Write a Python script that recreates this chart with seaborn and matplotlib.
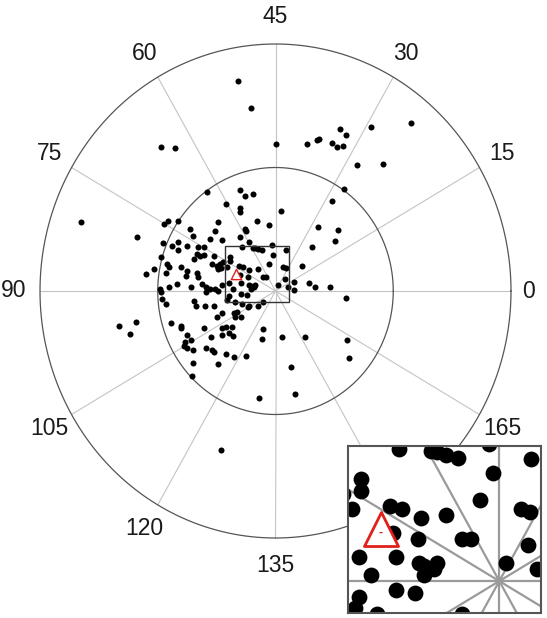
import numpy as np
import pandas as pd
import matplotlib.pyplot as plt
from matplotlib.patches import Rectangle
import seaborn as sns

sns.set_style('white')
plt.rcParams['font.family'] = ['Liberation Sans', 'DejaVu Sans']

# orientation labels (0-180) spread over the full circle
angle_labels = [0, 15, 30, 45, 60, 75, 90, 105, 120, 135, 150, 165]
ring_radii = [0.5, 1.0]

# vector components of each point (outer ring = 1)
comp_x = [
    -0.159, -0.102, -0.487, -0.425, 0.004, 0.133, 0.177, 0.186, 0.239, 0.261,
    0.288, 0.274, 0.301, 0.407, 0.575, 0.345, 0.456, 0.292, 0.239, 0.181,
    0.265, 0.252, 0.155, 0.111, 0.142, 0.168, 0.230, 0.301, 0.080, 0.080,
    0.053, 0.022, -0.027, -0.080, -0.827, -0.588, -0.292, -0.150, -0.128, -0.097,
    -0.212, -0.150, -0.150, -0.243, -0.128, -0.124, -0.257, -0.363, -0.226, -0.279,
    -0.350, -0.150, -0.111, -0.088, -0.075, -0.058, -0.009, -0.142, -0.473, -0.456,
    -0.416, -0.478, -0.438, -0.416, -0.412, -0.376, -0.327, -0.305, -0.332, -0.319,
    -0.305, -0.345, -0.261, -0.270, -0.248, -0.235, -0.221, -0.243, -0.230, -0.195,
    -0.195, -0.155, -0.137, -0.111, -0.075, -0.027, 0.031, 0.044, 0.040, 0.009,
    -0.053, -0.040, -0.115, -0.106, -0.093, -0.106, -0.150, -0.146, -0.181, -0.146,
    -0.199, -0.208, -0.487, -0.518, -0.549, -0.460, -0.451, -0.465, -0.403, -0.381,
    -0.332, -0.327, -0.376, -0.420, -0.451, -0.491, -0.487, -0.358, -0.310, -0.296,
    -0.279, -0.296, -0.257, -0.243, -0.198, -0.226, -0.482, -0.465, -0.345, -0.336,
    -0.301, -0.261, -0.204, -0.173, -0.142, -0.111, -0.053, -0.119, -0.664, -0.593,
    -0.619, -0.442, -0.403, -0.403, -0.376, -0.358, -0.385, -0.389, -0.376, -0.350,
    -0.296, -0.270, -0.261, -0.212, -0.177, -0.124, -0.350, -0.243, -0.354, -0.274,
    -0.226, -0.212, -0.186, -0.199, -0.181, -0.226, -0.305, -0.248, -0.226, -0.177,
    -0.164, -0.146, -0.173, -0.115, -0.075, -0.053, -0.058, 0.027, 0.124, 0.305,
    0.310, 0.066, 0.084, -0.071, -0.230, -0.097, -0.015, 0.045, -0.114, -0.088,
]
comp_y = [
    0.850, 0.741, 0.583, 0.579, 0.595, 0.595, 0.611, 0.615, 0.599, 0.583,
    0.587, 0.656, 0.632, 0.664, 0.680, 0.510, 0.514, 0.413, 0.364, 0.259,
    0.247, 0.202, 0.178, 0.101, 0.032, 0.016, 0.016, -0.028, 0.036, 0.004,
    0.016, 0.324, 0.267, 0.283, 0.279, 0.219, 0.401, 0.409, 0.385, 0.393,
    0.352, 0.336, 0.320, 0.279, 0.251, 0.243, 0.243, 0.251, 0.206, 0.211,
    0.223, 0.219, 0.198, 0.174, 0.170, 0.166, 0.146, 0.178, 0.271, 0.283,
    0.283, 0.194, 0.182, 0.198, 0.166, 0.182, 0.178, 0.178, 0.150, 0.142,
    0.146, 0.130, 0.142, 0.109, 0.101, 0.109, 0.117, 0.089, 0.093, 0.138,
    0.121, 0.101, 0.097, 0.085, 0.089, 0.109, 0.097, 0.093, 0.049, 0.024,
    0.057, 0.057, 0.057, 0.020, 0.016, 0.008, 0.065, 0.032, 0.008, -0.012,
    0.032, 0.097, 0.138, 0.089, 0.069, 0.109, 0.097, 0.073, 0.097, 0.061,
    0.073, 0.057, 0.081, 0.028, 0.016, 0.008, -0.004, 0.016, 0.028, 0.016,
    0.008, -0.004, 0.008, 0.000, -0.021, 0.024, -0.032, -0.053, -0.040, -0.061,
    -0.061, -0.061, -0.036, -0.045, -0.053, -0.061, -0.045, -0.016, -0.142, -0.126,
    -0.174, -0.130, -0.142, -0.150, -0.178, -0.198, -0.206, -0.223, -0.231, -0.239,
    -0.231, -0.239, -0.247, -0.255, -0.267, -0.263, -0.291, -0.296, -0.344, -0.186,
    -0.150, -0.146, -0.146, -0.170, -0.182, -0.178, -0.150, -0.105, -0.089, -0.089,
    -0.085, -0.105, -0.105, -0.065, -0.061, -0.154, -0.194, -0.186, -0.186, -0.198,
    -0.271, -0.308, -0.417, -0.433, -0.644, 0.175, 0.185, 0.165, 0.024, 0.024,
]

# mean vector (red triangle)
mean_x = [-0.168]
mean_y = [0.070]

# zoomed window shown in the inset
zoom_x = (-0.214, 0.059)
zoom_y = (-0.043, 0.182)

df = pd.DataFrame({'x': comp_x, 'y': comp_y})
mean_df = pd.DataFrame({'x': mean_x, 'y': mean_y})

fig = plt.figure(figsize=(5.47, 6.18), dpi=100)

# main polar-style panel (drawn on cartesian axes, slightly taller than wide)
ax = fig.add_axes([40 / 547, 80 / 618, 471 / 547, 494 / 618])
ax.set_xlim(-1, 1)
ax.set_ylim(-1, 1)
ax.axis('off')

t = np.linspace(0, 2 * np.pi, 500)
for r in ring_radii:
    ax.plot(r * np.cos(t), r * np.sin(t), color='#555555', lw=0.9,
            zorder=2, clip_on=False)

for lab in angle_labels:
    a = np.deg2rad(2 * lab)
    ax.plot([0, np.cos(a)], [0, np.sin(a)], color='#c4c4c4', lw=0.8,
            zorder=1, clip_on=False)
    rl = 1.075 if lab == 0 else 1.11
    ax.text(rl * np.cos(a), rl * np.sin(a), str(lab), ha='center',
            va='center', fontsize=16.5, color='#1a1a1a')

sns.scatterplot(data=df, x='x', y='y', ax=ax, color='black', s=19,
                linewidth=0, legend=False, zorder=3)
ax.add_patch(Rectangle((zoom_x[0], zoom_y[0]), zoom_x[1] - zoom_x[0],
                       zoom_y[1] - zoom_y[0], fill=False,
                       edgecolor='#333333', lw=1.0, zorder=4))
sns.scatterplot(data=mean_df, x='x', y='y', ax=ax, marker='^', s=55,
                facecolor='white', edgecolor='#e0201b', linewidth=1.0,
                legend=False, zorder=5)
ax.set_xlabel('')
ax.set_ylabel('')

# inset with the zoomed centre
axin = fig.add_axes([348 / 547, 5 / 618, 193 / 547, 167 / 618])
axin.set_zorder(10)
axin.set_facecolor('white')
axin.set_xlim(*zoom_x)
axin.set_ylim(*zoom_y)
for lab in angle_labels:
    a = np.deg2rad(2 * lab)
    axin.plot([0, 2 * np.cos(a)], [0, 2 * np.sin(a)], color='#9a9a9a',
              lw=1.6, zorder=1)
sns.scatterplot(data=df, x='x', y='y', ax=axin, color='black', s=130,
                linewidth=0, legend=False, zorder=2)
sns.scatterplot(data=mean_df, x='x', y='y', ax=axin, marker='^', s=600,
                facecolor='white', edgecolor='#e0201b', linewidth=2.0,
                legend=False, zorder=3)
axin.annotate('-', (mean_x[0], mean_y[0]), xytext=(0, -3),
              textcoords='offset points', ha='center', va='center',
              color='#e0201b', fontsize=9, fontweight='bold', zorder=4)
axin.set_xticks([])
axin.set_yticks([])
axin.set_xlabel('')
axin.set_ylabel('')
for sp in axin.spines.values():
    sp.set_visible(True)
    sp.set_color('#555555')
    sp.set_linewidth(1.5)

fig.savefig('out.png', dpi=100, facecolor='white')
